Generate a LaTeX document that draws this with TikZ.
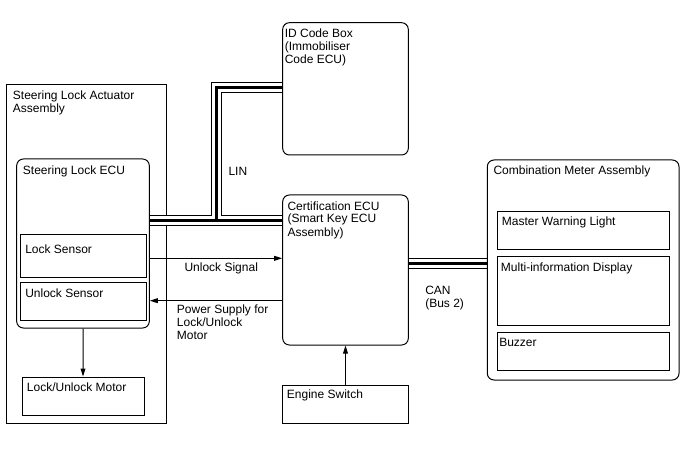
\documentclass[tikz,border=0pt]{standalone}
\usepackage{fontspec}
\setmainfont{Liberation Sans}
\usetikzlibrary{fit,calc,arrows.meta}
\pgfdeclarelayer{background}
\pgfsetlayers{background,main}
\begin{document}
\begin{tikzpicture}[x=0.75pt,y=-0.75pt,
  box/.style={draw, line width=0.75pt, inner sep=0pt},
  rbox/.style={box, rounded corners=5pt},
  txt/.style={font=\fontsize{9}{9.75}\selectfont, inner sep=0pt, anchor=base west, align=left},
  conn/.style={line width=0.75pt, -{Triangle[length=6pt,width=3.6pt]}},
  busA/.style={line width=8.25pt, line join=miter},
  busB/.style={line width=6.75pt, white, line join=miter},
  busC/.style={line width=2.25pt, line join=miter}]

\useasboundingbox (0,0) rectangle (688,463);

% boxes
\node[rbox, fit={(16.7,159) (149.3,328)}] (slecu) {};
\node[box, fit={(20,234) (146,277)}] (lock) {};
\node[box, fit={(20,282.7) (146,320)}] (unlock) {};
\node[box, fit={(22,377) (144,415.7)}] (motor) {};
\node[rbox, fit={(282.7,22.7) (408.3,155)}] (idbox) {};
\node[rbox, fit={(282.7,195) (408.3,345)}] (cert) {};
\node[box, fit={(282.7,385) (408.3,423.3)}] (engsw) {};
\node[rbox, fit={(487.3,160) (679,380)}] (cma) {};
\node[box, fit={(497.3,211.7) (669,249.3)}] (mwl) {};
\node[box, fit={(497.3,256.7) (669,325)}] (mid) {};
\node[box, fit={(497.3,332.7) (669,370.7)}] (buzz) {};

\begin{pgfonlayer}{background}
\node[box, fit={(6,85) (166,423)}] (act) {};
\coordinate (j) at (216.7,221);
\coordinate (k) at (216.7,88);
\coordinate (c) at (0,263);
\foreach \s in {busA,busB,busC}{
  \draw[\s] (slecu.east |- j) -- (cert.west |- j);
  \draw[\s] (j) -- (k) -- (idbox.west |- k);
  \draw[\s] (cert.east |- c) -- (cma.west |- c);
}
\end{pgfonlayer}

% connectors
\coordinate (us) at (0,258.3);
\coordinate (ps) at (0,300.7);
\draw[conn] (slecu.east |- us) -- (cert.west |- us);
\draw[conn] (cert.west |- ps) -- (slecu.east |- ps);
\draw[conn] (slecu.south) -- (motor.north);
\draw[conn] (engsw.north) -- (cert.south);

% texts (anchor = baseline of the last line)
\node[txt] (t-act) at (12.7,112.5) {Steering Lock Actuator\\Assembly};
\node[txt] (t-slecu) at (22.7,175) {Steering Lock ECU};
\node[txt] (t-lock) at (25,253.5) {Lock Sensor};
\node[txt] (t-unlock) at (25,297.5) {Unlock Sensor};
\node[txt] (t-motor) at (26.7,391.7) {Lock/Unlock Motor};
\node[txt] (t-id) at (284.5,63.7) {ID Code Box\\(Immobiliser\\Code ECU)};
\node[txt] (t-cert) at (287.3,236) {Certification ECU\\(Smart Key ECU\\Assembly)};
\node[txt] (t-eng) at (286.7,398.3) {Engine Switch};
\node[txt] (t-cma) at (493.3,175) {Combination Meter Assembly};
\node[txt] (t-mwl) at (501.7,225) {Master Warning Light};
\node[txt] (t-mid) at (500.7,271.7) {Multi-information Display};
\node[txt] (t-buzz) at (499,346.7) {Buzzer};
\node[txt] (t-lin) at (228.3,176) {LIN};
\node[txt] (t-us) at (184.3,271.7) {Unlock Signal};
\node[txt] (t-ps) at (176.7,339.5) {Power Supply for\\Lock/Unlock\\Motor};
\node[txt] (t-can) at (425,307) {CAN\\(Bus 2)};
\end{tikzpicture}
\end{document}
